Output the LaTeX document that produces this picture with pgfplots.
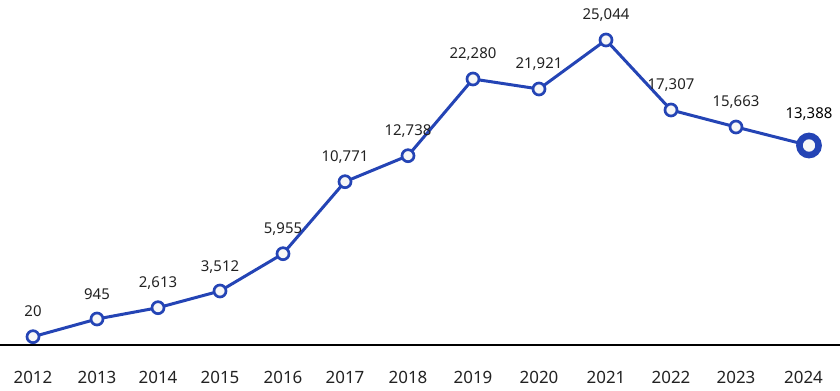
\documentclass[border=0pt]{standalone}
\usepackage{fontspec}
\setmainfont{Noto Sans}
\usepackage{pgfplots}
\pgfplotsset{compat=1.18}
\definecolor{lineblue}{HTML}{2444B5}
\definecolor{txt}{HTML}{222222}
\definecolor{gridc}{HTML}{CCCCCC}
\definecolor{mfill}{HTML}{F7F7F7}
\begin{document}
\begin{tikzpicture}
\begin{axis}[
  at={(0,0)}, anchor=origin,
  width=840bp, height=345bp, scale only axis,
  xmin=0, xmax=840, ymin=0, ymax=345,
  axis x line=bottom, axis y line=none,
  x axis line style={-, black, line width=1.2bp},
  xtick={33,97,158,220,283,345,408,473,539,606,671,736,803.5},
  xticklabels={2012,2013,2014,2015,2016,2017,2018,2019,2020,2021,2022,2023,2024},
  major tick length=0pt,
  xticklabel style={font=\fontsize{17}{20}\selectfont, text=txt, inner sep=0pt, anchor=north, yshift=-26bp},
  ytick={54.5,109,163.5,218,272.5,327},
  ymajorgrids=true,
  grid style={gridc, line width=0.9bp, dash pattern=on 2bp off 2bp},
  clip=false,
  every node near coord/.append style={font=\fontsize{15}{18}\selectfont, text=txt, anchor=base, yshift=20bp, inner sep=0pt},
]
\coordinate (bl) at (axis cs:0,0);
\coordinate (tr) at (axis cs:840,345);
\addplot[color=lineblue, line width=3bp, forget plot]
  table {
x y
736 218
809 199.5
};
\addplot[color=lineblue, line width=3bp, mark=*, mark size=6bp,
  mark options={fill=mfill, draw=lineblue, line width=2.7bp},
  point meta=explicit symbolic, nodes near coords]
  table[meta=label] {
x y label
33 8.3 20
97 26 945
158 37.3 2,613
220 54 3,512
283 91.3 5,955
345 163.3 10,771
408 189.3 12,738
473 266 22,280
539 256 21,921
606 305 25,044
671 235 17,307
736 218 15,663
};
\addplot[only marks, mark=*, mark size=9.6bp,
  mark options={fill=mfill, draw=lineblue, line width=6.5bp},
  point meta=explicit symbolic, nodes near coords,
  every node near coord/.append style={yshift=7bp, text=black}]
  table[meta=label] {
x y label
809 199.5 13,388
};
\end{axis}
\pgfresetboundingbox
\path[use as bounding box] ([yshift=-45bp]bl) rectangle (tr);
\end{tikzpicture}
\end{document}
